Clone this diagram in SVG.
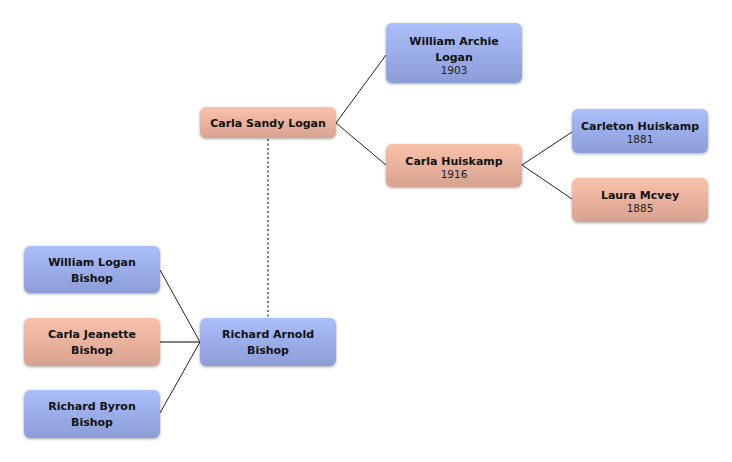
<svg xmlns="http://www.w3.org/2000/svg" width="732" height="462" viewBox="0 0 732 462">
<defs>
<linearGradient id="gb" x1="0" y1="0" x2="0" y2="1">
<stop offset="0" stop-color="#abbffb"/>
<stop offset="1" stop-color="#8c9cd7"/>
</linearGradient>
<linearGradient id="gp" x1="0" y1="0" x2="0" y2="1">
<stop offset="0" stop-color="#f9c2aa"/>
<stop offset="1" stop-color="#d7a291"/>
</linearGradient>
<filter id="sh" x="-10%" y="-20%" width="120%" height="150%">
<feGaussianBlur in="SourceAlpha" stdDeviation="1.5"/>
<feOffset dy="1" result="b"/>
<feComponentTransfer><feFuncA type="linear" slope="0.35"/></feComponentTransfer>
<feMerge><feMergeNode/><feMergeNode in="SourceGraphic"/></feMerge>
</filter>
</defs>
<style>
.m{fill:url(#gb);filter:url(#sh)}
.f{fill:url(#gp);filter:url(#sh)}
.n{font-family:"DejaVu Sans",sans-serif;font-weight:bold;font-size:11px;fill:#111;text-anchor:middle}
.y{font-family:"DejaVu Sans",sans-serif;font-size:10.5px;fill:#222;text-anchor:middle}
.c{stroke:#222;stroke-width:1;fill:none}
</style>
<rect width="732" height="462" fill="#fff"/>
<g id="connectors">
<line class="c" x1="336" y1="123" x2="386" y2="55"/>
<line class="c" x1="336" y1="123" x2="386" y2="165"/>
<line class="c" x1="522" y1="165" x2="572" y2="132"/>
<line class="c" x1="522" y1="165" x2="572" y2="199"/>
<line class="c" x1="200" y1="342" x2="160" y2="270"/>
<line x1="200" y1="342" x2="160" y2="342" stroke="#555" stroke-width="1.5"/>
<line class="c" x1="200" y1="342" x2="160" y2="413"/>
<line x1="268" y1="139" x2="268" y2="317" stroke="#777" stroke-width="2" stroke-dasharray="2,2.5"/>
</g>
<g id="carla-sandy-logan">
<rect class="f" x="200" y="107" width="136" height="31" rx="6"/>
<text class="n" x="268" y="127">Carla Sandy Logan</text>
</g>
<g id="william-archie-logan">
<rect class="m" x="386" y="23" width="136" height="60" rx="6"/>
<text class="n" x="454" y="45">William Archie</text>
<text class="n" x="454" y="61">Logan</text>
<text class="y" x="454" y="74">1903</text>
</g>
<g id="carla-huiskamp">
<rect class="f" x="386" y="144" width="136" height="43" rx="6"/>
<text class="n" x="454" y="165">Carla Huiskamp</text>
<text class="y" x="454" y="178">1916</text>
</g>
<g id="carleton-huiskamp">
<rect class="m" x="572" y="109" width="136" height="44" rx="6"/>
<text class="n" x="640" y="130">Carleton Huiskamp</text>
<text class="y" x="640" y="143">1881</text>
</g>
<g id="laura-mcvey">
<rect class="f" x="572" y="178" width="136" height="44" rx="6"/>
<text class="n" x="640" y="199">Laura Mcvey</text>
<text class="y" x="640" y="212">1885</text>
</g>
<g id="william-logan-bishop">
<rect class="m" x="24" y="246" width="136" height="47" rx="6"/>
<text class="n" x="92" y="266">William Logan</text>
<text class="n" x="92" y="282">Bishop</text>
</g>
<g id="carla-jeanette-bishop">
<rect class="f" x="24" y="318" width="136" height="48" rx="6"/>
<text class="n" x="92" y="338">Carla Jeanette</text>
<text class="n" x="92" y="354">Bishop</text>
</g>
<g id="richard-byron-bishop">
<rect class="m" x="24" y="390" width="136" height="48" rx="6"/>
<text class="n" x="92" y="410">Richard Byron</text>
<text class="n" x="92" y="426">Bishop</text>
</g>
<g id="richard-arnold-bishop">
<rect class="m" x="200" y="318" width="136" height="48" rx="6"/>
<text class="n" x="268" y="338">Richard Arnold</text>
<text class="n" x="268" y="354">Bishop</text>
</g>
</svg>
